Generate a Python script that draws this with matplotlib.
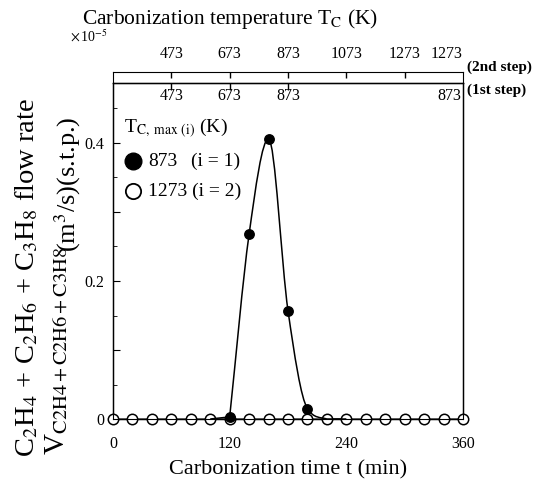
import numpy as np
import matplotlib
matplotlib.use("Agg")
import matplotlib.pyplot as plt
from matplotlib.path import Path
from matplotlib.patches import PathPatch
from matplotlib.lines import Line2D
from matplotlib.transforms import blended_transform_factory

plt.rcParams['font.family'] = ['Liberation Serif', 'DejaVu Serif']
plt.rcParams['mathtext.fontset'] = 'stix'

# ---------------- data ----------------
t_open = [0, 20, 40, 60, 80, 100, 120, 140, 160, 180, 200, 220, 240, 260, 280, 300, 320, 340, 360]
v_open = [0] * 19

t_fill = [100, 120, 140, 160, 180, 200, 220, 240]
v_fill = [0.0, 0.003, 0.268, 0.406, 0.157, 0.015, 0.0, 0.0]

x_ticks = [0, 120, 240, 360]
y_ticks = [0, 0.1, 0.2, 0.3, 0.4]
y_ticklabels = ['0', '', '0.2', '', '0.4']

step2_ticks = [60, 120, 180, 240, 300, 360]
step2_labels = ['473', '673', '873', '1073', '1273', '1273']
step1_ticks = [60, 120, 180, 360]
step1_labels = ['473', '673', '873', '873']

W, H = 550, 486
fig = plt.figure(figsize=(5.5, 4.86), dpi=100)

def fx(px):
    return px / W

def fy(py):
    return 1 - py / H

L, R, T, B, TS = 113, 463, 83, 419, 72
ax = fig.add_axes([fx(L), fy(B), fx(R - L), fy(T) - fy(B)])
ax.set_xlim(0, 360)
ax.set_ylim(0, (B - T) / 690.0)

# open series
ax.plot(t_open, v_open, color='#555555', lw=1.3, marker='o', ms=7.5,
        mfc='white', mec='black', mew=1.1, zorder=5, clip_on=False)

# smooth monotone curve for the non-zero part of the filled series
def mono_tangents(x, y):
    x = np.asarray(x, float); y = np.asarray(y, float)
    d = np.diff(y) / np.diff(x)
    m = np.empty_like(y)
    m[0] = d[0]; m[-1] = d[-1]
    m[1:-1] = (d[:-1] + d[1:]) / 2
    for k in range(1, len(y) - 1):
        if d[k - 1] * d[k] <= 0:
            m[k] = 0
    for k in range(len(d)):
        if d[k] == 0:
            m[k] = 0; m[k + 1] = 0
        else:
            a = m[k] / d[k]; b = m[k + 1] / d[k]
            s = a * a + b * b
            if s > 9:
                tau = 3 / np.sqrt(s)
                m[k] = tau * a * d[k]; m[k + 1] = tau * b * d[k]
    return m

def curve_path(x, y):
    x = list(x); y = list(y)
    nz = [i for i, v in enumerate(y) if v > 0]
    i0, i1 = nz[0], min(nz[-1] + 1, len(y) - 1)
    verts = [(x[0], y[0])]
    codes = [Path.MOVETO]
    for k in range(1, i0 + 1):
        verts.append((x[k], y[k])); codes.append(Path.LINETO)
    xs, ys = x[i0:i1 + 1], y[i0:i1 + 1]
    m = mono_tangents(xs, ys)
    for k in range(len(xs) - 1):
        h = xs[k + 1] - xs[k]
        verts += [(xs[k] + h / 3, ys[k] + m[k] * h / 3),
                  (xs[k + 1] - h / 3, ys[k + 1] - m[k + 1] * h / 3),
                  (xs[k + 1], ys[k + 1])]
        codes += [Path.CURVE4] * 3
    for k in range(i1 + 1, len(x)):
        verts.append((x[k], y[k])); codes.append(Path.LINETO)
    return Path(verts, codes)

ax.add_patch(PathPatch(curve_path(t_fill, v_fill), fill=False, lw=1.1,
                       ec='black', zorder=6, clip_on=False))
mk = [i for i, v in enumerate(v_fill) if v > 0]
ax.plot(t_fill, v_fill, ls='none', marker='o', ms=6.8, mfc='black',
        mec='black', markevery=mk, zorder=7, clip_on=False)

ax.set_xticks(x_ticks)
ax.set_xticklabels([str(v) for v in x_ticks])
ax.set_yticks(y_ticks)
ax.set_yticklabels(y_ticklabels)
ax.set_yticks(np.arange(0.05, 0.48, 0.1), minor=True)
ax.tick_params(axis='both', which='both', direction='in', labelsize=11.5)
ax.tick_params(axis='x', which='major', length=0, pad=12)
ax.tick_params(axis='y', which='major', length=5, pad=6)
ax.tick_params(axis='y', which='minor', length=3)
ax.tick_params(top=False, right=False)
for s in ax.spines.values():
    s.set_linewidth(1.0)

ax.set_xlabel('Carbonization time t (min)', fontsize=16, labelpad=6)

# first step ticks on main axes top
axt1 = ax.twiny()
axt1.set_xlim(0, 360)
axt1.set_xticks(step1_ticks[:-1])
axt1.set_xticklabels([])
axt1.tick_params(axis='x', direction='in', length=5, width=1.0)
for tk, lb in zip(step1_ticks, step1_labels):
    ha = 'right' if tk == 360 else 'center'
    xo = tk - 1.5 if tk == 360 else tk
    axt1.text(xo, 0.985, lb, transform=axt1.get_xaxis_transform(),
              ha=ha, va='top', fontsize=11.5)

# top strip (2nd step)
ax2 = fig.add_axes([fx(L), fy(T), fx(R - L), fy(TS) - fy(T)])
ax2.set_xlim(0, 360)
ax2.set_yticks([])
ax2.xaxis.tick_top()
ax2.set_xticks(step2_ticks[:-1])
ax2.set_xticklabels([])
ax2.tick_params(axis='x', direction='in', length=4, width=1.0)
tr2 = blended_transform_factory(ax2.transData, fig.transFigure)
for tk, lb in zip(step2_ticks, step2_labels):
    ha = 'right' if tk == 360 else 'center'
    ax2.text(tk, fy(62), lb, transform=tr2, ha=ha, va='bottom', fontsize=11.5)
ax2.patch.set_alpha(0)

fig.text(fx(467), fy(67), '(2nd step)', fontsize=11, fontweight='bold', ha='left', va='center')
fig.text(fx(467), fy(90), '(1st step)', fontsize=11, fontweight='bold', ha='left', va='center')

fig.text(fx(230), fy(19), r'Carbonization temperature T$_\mathrm{C}$ (K)', fontsize=15.5,
         ha='center', va='center')
fig.text(fx(70), fy(37), r'$\times\,$10$^{-5}$', fontsize=10, ha='left', va='center')

# y labels
fig.text(fx(27), fy(457), r'C$_2$H$_4$ + C$_2$H$_6$ + C$_3$H$_8$ flow rate', rotation=90,
         fontsize=20.5, ha='center', va='bottom')
fig.text(fx(56), fy(455), r'V$_\mathrm{C2H4+C2H6+C3H8}$', rotation=90,
         fontsize=21, ha='center', va='bottom')
fig.text(fx(68), fy(252), r'(m$^3$/s)(s.t.p.)', rotation=90,
         fontsize=19, ha='center', va='bottom')

# legend
fig.text(fx(124), fy(128), r'T$_\mathrm{C,\ max\ (i)}$ (K)', fontsize=14, ha='left', va='center')
fig.add_artist(Line2D([fx(133)], [fy(161)], marker='o', ms=12, mfc='black', mec='black',
                      transform=fig.transFigure))
fig.add_artist(Line2D([fx(133)], [fy(191)], marker='o', ms=11, mfc='white', mec='black',
                      mew=1.3, transform=fig.transFigure))
fig.text(fx(148), fy(161), '873', fontsize=14, ha='left', va='center')
fig.text(fx(191), fy(161), '(i = 1)', fontsize=14, ha='left', va='center')
fig.text(fx(148), fy(191), '1273 (i = 2)', fontsize=14, ha='left', va='center')

fig.savefig('out.png', dpi=100)
